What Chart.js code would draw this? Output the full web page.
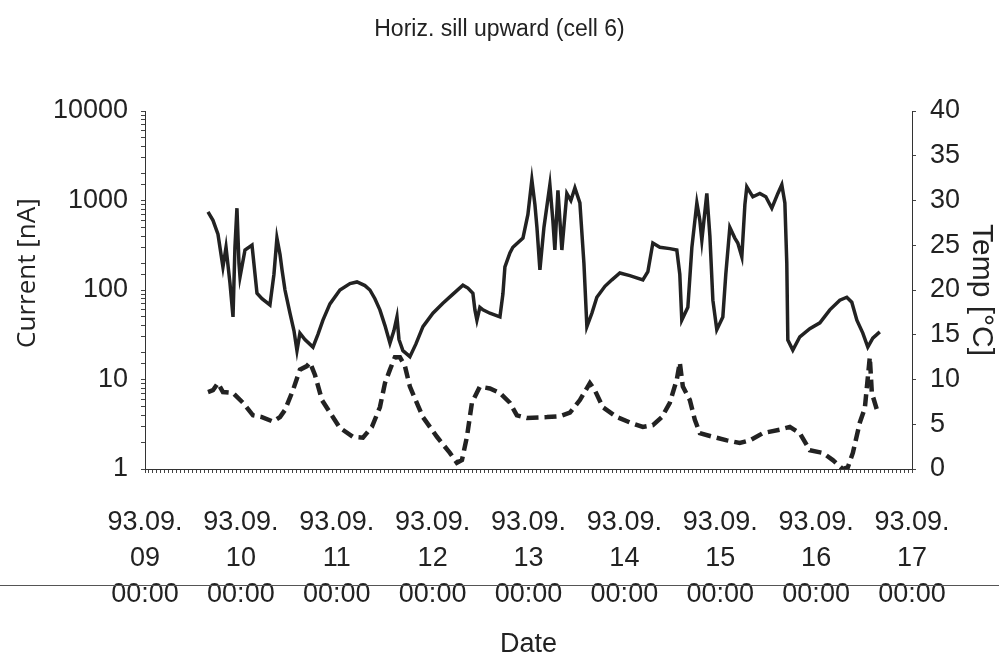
<!DOCTYPE html>
<html>
<head>
<meta charset="utf-8">
<title>Horiz. sill upward (cell 6)</title>
<script src="https://cdn.jsdelivr.net/npm/chart.js@4.4.0/dist/chart.umd.min.js"></script>
<style>
	html, body { margin: 0; padding: 0; background: #fff; }
	#wrap { width: 999px; height: 661px; }
</style>
</head>
<body>
<div id="wrap"><canvas id="sillChart" width="999" height="661"></canvas></div>
<script>
// time axis: days since 93.09.09 00:00
var dayLabels = ["09", "10", "11", "12", "13", "14", "15", "16", "17"];
var currentTickValues = [1, 10, 100, 1000, 10000];

var currentDays = [0.657,0.709,0.761,0.813,0.845,0.886,0.918,0.938,0.959,0.980,0.991,1.043,1.116,1.168,1.220,1.303,1.345,1.376,1.408,1.429,
	1.460,1.512,1.554,1.585,1.616,1.668,1.752,1.804,1.856,1.929,2.033,2.138,2.211,2.294,2.346,2.398,2.450,2.503,2.555,2.596,
	2.628,2.649,2.690,2.763,2.826,2.899,3.003,3.107,3.212,3.316,3.368,3.420,3.441,3.462,3.493,3.525,3.597,3.702,3.733,3.754,
	3.806,3.837,3.942,3.994,4.035,4.067,4.088,4.119,4.161,4.223,4.254,4.275,4.307,4.348,4.400,4.442,4.484,4.536,4.578,4.609,
	4.661,4.713,4.797,4.870,4.953,5.057,5.193,5.245,5.297,5.370,5.474,5.547,5.578,5.599,5.662,5.704,5.756,5.787,5.808,5.860,
	5.892,5.923,5.964,6.027,6.058,6.100,6.152,6.183,6.225,6.257,6.277,6.340,6.413,6.475,6.538,6.601,6.642,6.674,6.694,6.705,
	6.757,6.830,6.934,7.039,7.143,7.247,7.320,7.372,7.425,7.487,7.539,7.591,7.664];
var currentNA = [745,600,420,181,300,120,50,300,820,200,140,280,317,92,80,68,150,380,250,168,
	100,55,35,21,33,28,23,32,46,70,100,118,123,112,100,80,60,40,25.5,35,
	50,28,21,18,25,39,55,71,90,113,105,92,60,46,64,60,55,50,90,181,
	260,300,380,700,1700,900,500,168,500,1500,600,280,1300,280,1200,1000,1380,940,200,39,
	55,83,110,130,155,145,130,160,335,300,290,280,150,46,64,300,940,600,360,1200,
	400,77,36,50,150,500,380,335,235,900,1420,1100,1200,1100,820,1200,1500,940,200,27.6,
	21.3,30,37,43,60,77,83,73,46,33,23,29,34];

var tempDays = [0.657,0.709,0.761,0.813,0.918,1.022,1.126,1.220,1.335,1.408,1.460,1.543,1.616,1.689,1.721,1.773,1.846,1.929,2.033,2.169,
	2.273,2.367,2.450,2.503,2.555,2.607,2.659,2.711,2.763,2.899,3.045,3.180,3.253,3.306,3.358,3.410,3.493,3.597,3.702,3.806,
	3.879,3.983,4.192,4.327,4.432,4.536,4.640,4.692,4.776,4.922,5.057,5.193,5.297,5.391,5.474,5.547,5.578,5.610,5.683,5.735,
	5.787,5.923,6.069,6.204,6.309,6.444,6.621,6.726,6.830,6.934,7.070,7.174,7.278,7.331,7.383,7.456,7.508,7.560,7.581,7.643];
var tempC = [8.6,8.8,9.6,8.6,8.5,7.4,6.0,5.8,5.3,5.8,6.6,8.8,11.1,11.5,11.9,10.5,7.7,6.3,4.6,3.6,
	3.5,4.7,6.9,9.6,11.1,12.5,12.5,11.5,9.2,5.8,3.6,1.8,0.7,1.0,3.6,7.4,9.2,9.0,8.5,7.4,
	6.0,5.7,5.8,5.9,6.3,7.7,9.6,8.8,6.9,5.8,5.2,4.7,4.9,5.8,7.4,10.0,11.9,9.2,7.7,5.5,
	4.0,3.6,3.2,2.9,3.2,4.0,4.4,4.7,4.0,2.1,1.8,1.0,0.0,0.2,1.8,5.2,6.8,12.5,8.5,6.3];

function toPoints(days, values) {
	var pts = [];
	for (var i = 0; i < days.length; i++) {
		pts.push({ x: days[i] * 24, y: values[i] });
	}
	return pts;
}

var ink = "#222";
var font = "'Liberation Sans', Arial, sans-serif";

// stray rule running across the scan, under the date labels
var rulePlugin = {
	id: "rule",
	afterDraw: function (chart) {
		var c = chart.ctx;
		c.save();
		c.strokeStyle = "#555";
		c.lineWidth = 1;
		c.beginPath();
		c.moveTo(0, 585.5);
		c.lineTo(999, 585.5);
		c.stroke();
		c.restore();
	}
};

function loadSillChart () {
	var ctx = document.getElementById("sillChart");
	new Chart(ctx, {
		type: "line",
		data: {
			datasets: [{
				label: "Current [nA]",
				data: toPoints(currentDays, currentNA),
				yAxisID: "yCurrent",
				borderColor: ink,
				borderWidth: 3.5,
				pointRadius: 0,
				tension: 0,
				fill: false
			}, {
				label: "Temp [°C]",
				data: toPoints(tempDays, tempC),
				yAxisID: "yTemp",
				borderColor: ink,
				borderWidth: 4.5,
				borderDash: [12, 6],
				pointRadius: 0,
				tension: 0,
				fill: false
			}]
		},
		options: {
			responsive: false,
			animation: false,
			layout: { padding: 0 },
			plugins: {
				legend: { display: false },
				tooltip: { enabled: false },
				title: {
					display: true,
					text: "Horiz. sill upward (cell 6)",
					color: ink,
					font: { family: font, size: 23, weight: "normal", lineHeight: 1.2 },
					padding: { top: 16, bottom: 67.4 }
				}
			},
			scales: {
				x: {
					type: "linear",
					min: 0,
					max: 192,
					afterFit: function (scale) { scale.height = 192; },
					border: { display: true, color: "#333", width: 1 },
					grid: { drawOnChartArea: false, tickLength: 4, color: "#444" },
					ticks: {
						stepSize: 1,
						autoSkip: false,
						maxRotation: 0,
						color: ink,
						padding: 32,
						font: { family: font, size: 27, lineHeight: 1.33 },
						callback: function (value) {
							if (value % 24 !== 0) return "";
							return ["93.09.", dayLabels[value / 24], "00:00"];
						}
					},
					title: {
						display: true,
						text: "Date",
						color: ink,
						font: { family: font, size: 27, lineHeight: 1.2 },
						padding: { top: 0, bottom: 0 }
					}
				},
				yCurrent: {
					type: "logarithmic",
					position: "left",
					min: 1,
					max: 10000,
					afterFit: function (scale) { scale.width = 145; },
					border: { display: true, color: "#333", width: 1 },
					grid: { drawOnChartArea: false, tickLength: 4, color: "#444" },
					ticks: {
						autoSkip: false,
						color: ink,
						padding: 13,
						font: { family: font, size: 27 },
						callback: function (value) {
							return currentTickValues.indexOf(value) >= 0 ? String(value) : "";
						}
					},
					title: {
						display: true,
						text: "     Current [nA]",
						color: ink,
						font: { family: "'Open Sans', " + font, size: 26, lineHeight: 1.2 },
						padding: { top: 12, bottom: 0 }
					}
				},
				yTemp: {
					type: "linear",
					position: "right",
					min: 0,
					max: 40,
					afterFit: function (scale) { scale.width = 87; },
					border: { display: true, color: "#333", width: 1 },
					grid: { drawOnChartArea: false, tickLength: 4, color: "#444" },
					ticks: {
						stepSize: 5,
						color: ink,
						padding: 14,
						font: { family: font, size: 27 }
					},
					title: {
						display: true,
						text: "Temp [°C]",
						color: ink,
						font: { family: font, size: 30, lineHeight: 1.2 },
						padding: { top: 0, bottom: 0 }
					}
				}
			}
		},
		plugins: [rulePlugin]
	});
}
window.addEventListener("load", function () { loadSillChart(); });
</script>
</body>
</html>
